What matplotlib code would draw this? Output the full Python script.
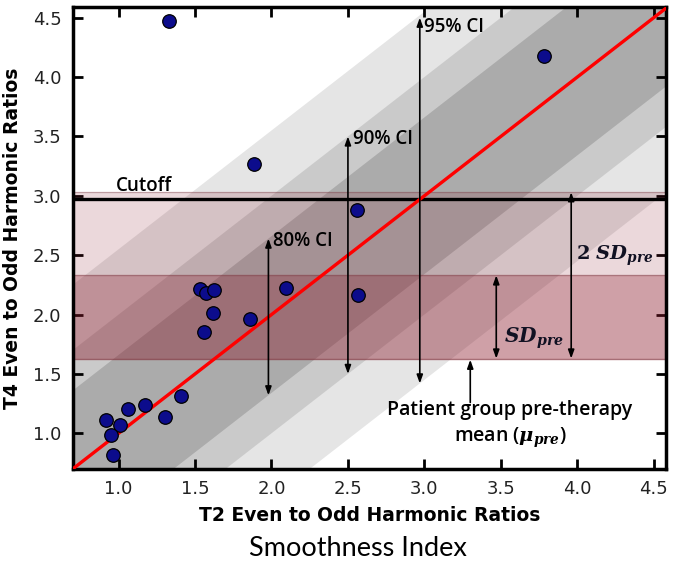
import numpy as np
import matplotlib
matplotlib.use("Agg")
import matplotlib.pyplot as plt

# Smoothness index: T2 vs T4 even-to-odd harmonic ratios
t2_ratio = [1.530, 1.569, 1.626, 1.617, 1.561, 1.857, 2.095, 1.410, 1.173, 1.061,
            0.921, 1.009, 0.948, 0.965, 1.306, 2.560, 2.566, 3.780, 1.332, 1.888]
t4_ratio = [2.212, 2.181, 2.203, 2.014, 1.853, 1.966, 2.220, 1.314, 1.235, 1.203,
            1.113, 1.071, 0.989, 0.814, 1.138, 2.881, 2.169, 4.181, 4.472, 3.271]

# Confidence-interval half widths around the identity line
ci_labels = ["80% CI", "90% CI", "95% CI"]
ci_halfwidth = [0.66, 1.00, 1.55]
ci_arrow_x = [1.98, 2.50, 2.97]

# Pre-therapy group statistics
mu_pre = 1.63
sd_pre = 0.70
cutoff = 2.97

axis_min, axis_max = 0.70, 4.58
ticks = [1.0, 1.5, 2.0, 2.5, 3.0, 3.5, 4.0, 4.5]

plt.rcParams["mathtext.fontset"] = "dejavuserif"
note_font = "Open Sans"
note_kw = dict(fontsize=13.5, family=note_font, fontweight="semibold", zorder=7)

fig = plt.figure(figsize=(6.73, 5.63), dpi=100)
ax = fig.add_axes([0.108, 0.167, 0.8816, 0.8206])

xs = np.linspace(axis_min - 2, axis_max + 2, 10)
gray_alpha = [0.153, 0.114, 0.102]
for w, a in zip(ci_halfwidth, gray_alpha):
    ax.fill_between(xs, xs - w, xs + w, color="black", alpha=a, lw=0, zorder=1)

# 2 SD and 1 SD bands above the group mean
pink = "#8b1a2b"
ax.axhspan(mu_pre, mu_pre + 2 * sd_pre, color=pink, alpha=0.17, lw=1.0, zorder=2)
ax.axhspan(mu_pre, mu_pre + sd_pre, color=pink, alpha=0.29, lw=1.0, zorder=2)
for yv in (mu_pre, mu_pre + sd_pre, mu_pre + 2 * sd_pre):
    ax.axhline(yv, color="#7a4a50", lw=0.8, alpha=0.35, zorder=2)

ax.axhline(cutoff, color="black", lw=2.4, zorder=3)
ax.plot([axis_min, axis_max], [axis_min, axis_max], color="red", lw=2.4, zorder=4)

ax.scatter(t2_ratio, t4_ratio, s=95, color="#0c0c8c", edgecolor="black",
           linewidth=0.9, zorder=6)

arrow_kw = dict(arrowstyle="<|-|>,head_length=0.5,head_width=0.18",
                color="black", lw=1.2, shrinkA=0, shrinkB=0)
for label, w, xa in zip(ci_labels, ci_halfwidth, ci_arrow_x):
    top = min(xa + w, 4.5)
    ax.annotate("", xy=(xa, top), xytext=(xa, xa - w), arrowprops=arrow_kw, zorder=7)
    ax.text(xa + 0.03, top - 0.02 if top < 4.5 else 4.42, label,
            va="center", ha="left", **note_kw)

ax.text(0.98, 3.08, "Cutoff", va="center", ha="left", **note_kw)

# SD arrows
ax.annotate("", xy=(3.47, mu_pre + sd_pre), xytext=(3.47, mu_pre),
            arrowprops=arrow_kw, zorder=7)
ax.annotate("", xy=(3.96, mu_pre + 2 * sd_pre), xytext=(3.96, mu_pre),
            arrowprops=arrow_kw, zorder=7)
ax.text(3.52, 1.80, r"$\boldsymbol{SD}_{\boldsymbol{pre}}$", fontsize=14.5,
        va="center", ha="left", color="#111122", zorder=7)
ax.text(3.99, 2.49, r"$\mathbf{2}\ \boldsymbol{SD}_{\boldsymbol{pre}}$", fontsize=14,
        va="center", ha="left", color="#111122", zorder=7)

# Mean pointer
ax.annotate("", xy=(3.30, mu_pre - 0.01), xytext=(3.30, 1.26),
            arrowprops=dict(arrowstyle="-|>,head_length=0.5,head_width=0.18",
                            color="black", lw=1.2, shrinkA=0, shrinkB=0), zorder=7)
mean_kw = dict(note_kw, fontsize=14)
ax.text(3.56, 1.20, "Patient group pre-therapy", va="center", ha="center", **mean_kw)
ax.text(3.56, 0.96, r"mean ($\boldsymbol{\mu}_{\boldsymbol{pre}}$)",
        va="center", ha="center", **mean_kw)

ax.set_xlim(axis_min, axis_max)
ax.set_ylim(axis_min, 4.59)
ax.set_xticks(ticks)
ax.set_yticks(ticks)
ax.tick_params(direction="in", length=7, width=2, top=True, right=True,
               labelsize=13, labelcolor="#222222", pad=8)
for s in ax.spines.values():
    s.set_linewidth(2.5)

ax.set_xlabel("T2 Even to Odd Harmonic Ratios", fontsize=13.5, fontweight="bold",
              labelpad=6)
ax.set_ylabel("T4 Even to Odd Harmonic Ratios", fontsize=13.5, fontweight="bold",
              labelpad=8)

fig.text(0.532, 0.025, "Smoothness Index", fontsize=19.5, family="Lato",
         ha="center", va="center")

fig.savefig("out.png", dpi=100)
